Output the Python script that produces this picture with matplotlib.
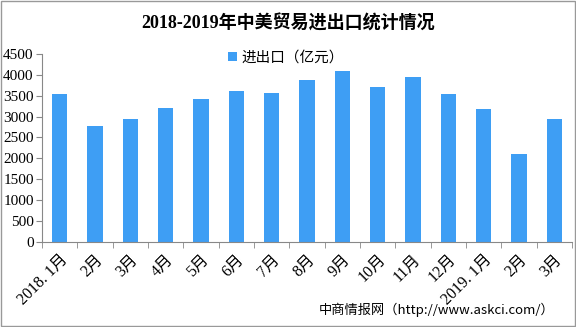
import numpy as np
import matplotlib.pyplot as plt
from matplotlib.patches import Rectangle

plt.rcParams['font.family'] = ['Liberation Serif', 'Noto Sans CJK SC', 'DejaVu Sans']

months = ['2018. 1月', '2月', '3月', '4月', '5月', '6月', '7月', '8月', '9月',
          '10月', '11月', '12月', '2019. 1月', '2月', '3月']
values = [3540, 2770, 2940, 3200, 3420, 3610, 3560, 3880, 4090,
          3710, 3950, 3540, 3180, 2100, 2940]

fig = plt.figure(figsize=(5.76, 3.27), dpi=100)
ax = fig.add_axes([0.073, 0.261, 0.920, 0.574])

x = np.arange(len(months))
ax.bar(x, values, width=0.43, color='#3e9ef4', label='进出口（亿元）')

ax.set_xlim(-0.5, len(months) - 0.5)
ax.set_ylim(0, 4500)
ax.set_yticks(range(0, 4501, 500))
ax.set_yticklabels([str(v) for v in range(0, 4501, 500)], fontsize=11)
ax.set_xticks(x)
ax.set_xticklabels(months, rotation=45, ha='right', rotation_mode='anchor', fontsize=11.5)
ax.tick_params(axis='x', length=0, pad=7)
ax.set_xticks(np.arange(-0.5, len(months), 1), minor=True)
ax.tick_params(axis='x', which='minor', length=4, color='#888888')
ax.tick_params(axis='y', length=4, color='#888888', pad=2)
for s in ['top', 'right']:
    ax.spines[s].set_visible(False)
for s in ['left', 'bottom']:
    ax.spines[s].set_color('#888888')

ax.legend(loc='center', bbox_to_anchor=(0.46, 0.98), frameon=False,
          handlelength=0.6, handleheight=0.6, handletextpad=0.3,
          prop={'family': ['Noto Sans CJK SC'], 'size': 10.5})

fig.text(0.5, 0.928, '2018-2019年中美贸易进出口统计情况', ha='center', va='center',
         fontsize=13, fontweight='bold', family=['Liberation Serif', 'Noto Sans CJK SC'])
fig.text(0.553, 0.052, '中商情报网（http://www.askci.com/）', ha='left', va='center',
         fontsize=9.5, family=['Noto Sans CJK SC'])

fig.add_artist(Rectangle((0.001, 0.002), 0.997, 0.995, transform=fig.transFigure,
                         fill=False, edgecolor='#999999', lw=1))

fig.savefig('out.png', dpi=100)
